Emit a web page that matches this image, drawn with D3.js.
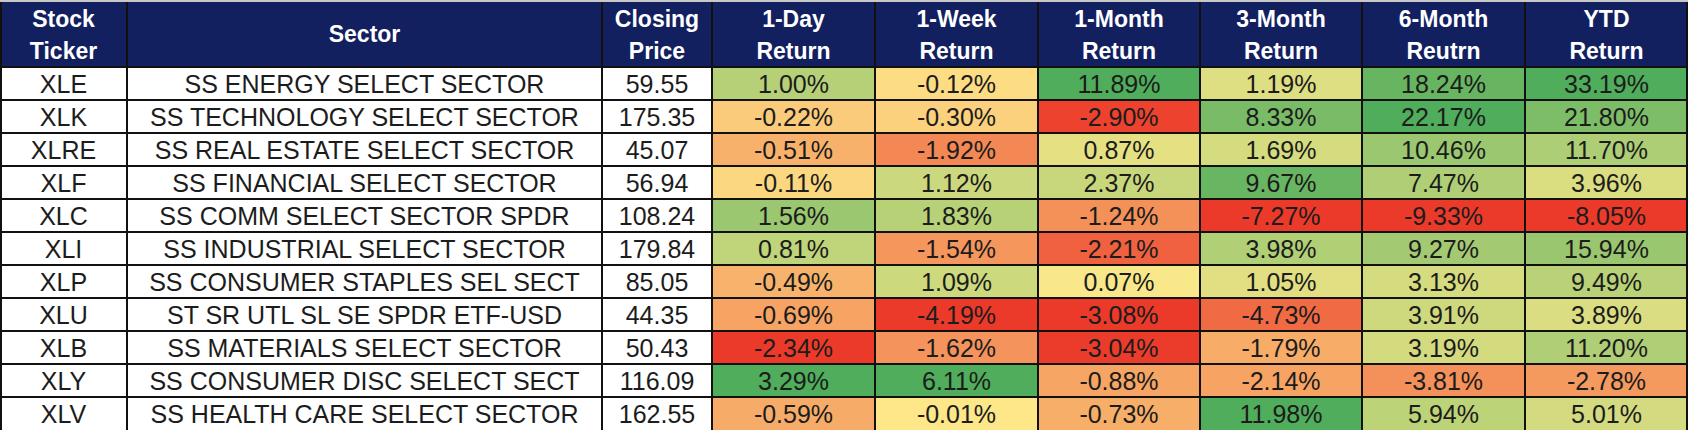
<!DOCTYPE html>
<html>

<head>
  <title>Sector ETF Returns</title>
  <style>
    body { margin: 0; background: #fff; }
    svg { display: block; }
  </style>
</head>

<body>
  <svg id="svg"></svg>

  <script src="https://d3js.org/d3.v7.min.js"></script>
  <script>
    // table data
    let tickers = ["XLE", "XLK", "XLRE", "XLF", "XLC", "XLI", "XLP", "XLU", "XLB", "XLY", "XLV"];
    let sectors = [
      "SS ENERGY SELECT SECTOR",
      "SS TECHNOLOGY SELECT SECTOR",
      "SS REAL ESTATE SELECT SECTOR",
      "SS FINANCIAL SELECT SECTOR",
      "SS COMM SELECT SECTOR SPDR",
      "SS INDUSTRIAL SELECT SECTOR",
      "SS CONSUMER STAPLES SEL SECT",
      "ST SR UTL SL SE SPDR ETF-USD",
      "SS MATERIALS SELECT SECTOR",
      "SS CONSUMER DISC SELECT SECT",
      "SS HEALTH CARE SELECT SECTOR"
    ];
    let closingPrice = [59.55, 175.35, 45.07, 56.94, 108.24, 179.84, 85.05, 44.35, 50.43, 116.09, 162.55];
    let ret1Day = [1.00, -0.22, -0.51, -0.11, 1.56, 0.81, -0.49, -0.69, -2.34, 3.29, -0.59];
    let ret1Week = [-0.12, -0.30, -1.92, 1.12, 1.83, -1.54, 1.09, -4.19, -1.62, 6.11, -0.01];
    let ret1Month = [11.89, -2.90, 0.87, 2.37, -1.24, -2.21, 0.07, -3.08, -3.04, -0.88, -0.73];
    let ret3Month = [1.19, 8.33, 1.69, 9.67, -7.27, 3.98, 1.05, -4.73, -1.79, -2.14, 11.98];
    let ret6Month = [18.24, 22.17, 10.46, 7.47, -9.33, 9.27, 3.13, 3.91, 3.19, -3.81, 5.94];
    let retYTD = [33.19, 21.80, 11.70, 3.96, -8.05, 15.94, 9.49, 3.89, 11.20, -2.78, 5.01];

    let headers = [
      ["Stock", "Ticker"], ["Sector"], ["Closing", "Price"],
      ["1-Day", "Return"], ["1-Week", "Return"], ["1-Month", "Return"],
      ["3-Month", "Return"], ["6-Month", "Reutrn"], ["YTD", "Return"]
    ];

    let returnCols = [ret1Day, ret1Week, ret1Month, ret3Month, ret6Month, retYTD];

    let width = 1688, height = 430;
    let headerH = 67;
    let colWidths = [127, 475, 110, 163, 163, 162, 162, 163, 163];
    let colX = [0];
    colWidths.forEach(w => colX.push(colX[colX.length - 1] + w));

    let svg = d3.select("#svg").attr("width", width).attr("height", height);

    let yScale = d3.scaleBand().domain(tickers).range([headerH, height]);

    // header
    svg.append("rect")
      .attr("x", 0).attr("y", 0)
      .attr("width", width).attr("height", headerH)
      .attr("fill", "#13205f");
    svg.append("rect")
      .attr("x", 0).attr("y", 0)
      .attr("width", width).attr("height", 2)
      .attr("fill", "#c8c8c8");

    let head = svg.append("g")
      .attr("font-family", "'Liberation Sans', Arial, sans-serif")
      .attr("font-weight", "bold")
      .attr("font-size", 23)
      .attr("fill", "#fff")
      .attr("text-anchor", "middle");

    headers.forEach((lines, i) => {
      let cx = colX[i] + colWidths[i] / 2;
      let t = head.append("text").attr("x", cx);
      if (lines.length === 1) {
        t.attr("y", 42).text(lines[0]);
      } else {
        t.append("tspan").attr("x", cx).attr("y", 27).text(lines[0]);
        t.append("tspan").attr("x", cx).attr("y", 59).text(lines[1]);
      }
    });

    // heat-map cells, red / yellow / green scale per column, centred on 0
    let ramp = d3.piecewise(d3.interpolateRgb, ["#eb3a2a", "#fde98a", "#4fad5b"]);
    let cells = svg.append("g");
    returnCols.forEach((vals, j) => {
      let color = d3.scaleDivergingPow(ramp)
        .exponent(0.75)
        .domain([d3.min(vals), 0, d3.max(vals)]);
      let ci = j + 3;
      cells.selectAll(null)
        .data(vals)
        .join("rect")
        .attr("x", colX[ci])
        .attr("y", (d, i) => yScale(tickers[i]))
        .attr("width", colWidths[ci])
        .attr("height", yScale.bandwidth())
        .attr("fill", d => color(d));
    });

    // body text
    let body = svg.append("g")
      .attr("font-family", "'Liberation Sans', Arial, sans-serif")
      .attr("font-size", 25)
      .attr("fill", "#1c1c1c")
      .attr("text-anchor", "middle");

    let textCols = [
      tickers,
      sectors,
      closingPrice.map(d => d.toFixed(2))
    ].concat(returnCols.map(vals => vals.map(d => d.toFixed(2) + "%")));

    textCols.forEach((vals, ci) => {
      body.selectAll(null)
        .data(vals)
        .join("text")
        .attr("x", colX[ci] + colWidths[ci] / 2)
        .attr("y", (d, i) => yScale(tickers[i]) + yScale.bandwidth() / 2 + 9)
        .text(d => d);
    });

    // grid lines
    let grid = svg.append("g").attr("stroke", "#111").attr("stroke-width", 2);
    grid.selectAll("line.h")
      .data(tickers.slice(1))
      .join("line")
      .attr("x1", 0).attr("x2", width)
      .attr("y1", d => yScale(d)).attr("y2", d => yScale(d));
    grid.append("line")
      .attr("x1", 0).attr("x2", width)
      .attr("y1", headerH).attr("y2", headerH);
    grid.selectAll("line.v")
      .data(colX.slice(1, -1))
      .join("line")
      .attr("x1", d => d).attr("x2", d => d)
      .attr("y1", 2).attr("y2", height);
    grid.append("line")
      .attr("x1", 1).attr("x2", 1).attr("y1", 2).attr("y2", height);
    grid.append("line")
      .attr("x1", width - 1).attr("x2", width - 1).attr("y1", 2).attr("y2", height);
  </script>
</body>

</html>
